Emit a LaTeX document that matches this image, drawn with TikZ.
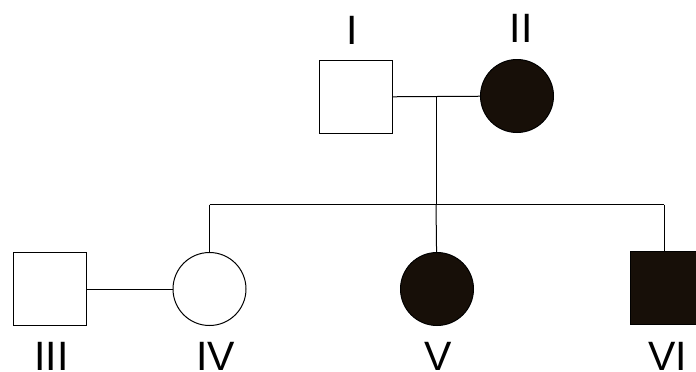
\documentclass[tikz,border=0pt]{standalone}
\usepackage{fontspec}
\setmainfont{Liberation Sans}
\usetikzlibrary{positioning}
\tikzset{male/.style={draw,rectangle,minimum size=36.5pt,inner sep=0pt,line width=0.5pt},
female/.style={draw,circle,minimum size=36.5pt,inner sep=0pt,line width=0.5pt},
ill/.style={fill=black!88!brown},
lbl/.style={font=\fontsize{20.5}{24}\selectfont,anchor=base,inner sep=0pt}}

\begin{document}
\begin{tikzpicture}[x=0.5pt,y=-0.5pt,line width=0.5pt]
		\useasboundingbox (0,0) rectangle (696,371);
		% parents
		\node[male] (p1) at (355.5,97) {};
		\node[female,ill] (p2) at (517,96) {};
		\coordinate (pm) at (436,97);
		% children
		\node[male] (c3) at (49.5,289) {};
		\node[female] (c4) at (209.5,289) {};
		\node[female,ill] (c5) at (437,289) {};
		\node[male,ill] (c6) at (666.5,288) {};
		\coordinate (sl) at (209.5,204.5);
		\coordinate (sm) at (436,204.5);
		\coordinate (sr) at (664,204.5);
		% labels
		\node[lbl] (l1) at (352.5,44) {I};
		\node[lbl] (l2) at (521,42) {II};
		\node[lbl] (l3) at (51.5,370) {III};
		\node[lbl] (l4) at (215.5,370) {IV};
		\node[lbl] (l5) at (438,370) {V};
		\node[lbl] (l6) at (668,370) {VI};
		% lines
		\draw (p1) -- (p2);
		\draw (pm) -- (sm);
		\draw (sl) -- (sr);
		\draw (sl) -- (c4);
		\draw (sm) -- (c5);
		\draw (sr) -- (sr |- c6.north);
		\draw (c3) -- (c4);
	\end{tikzpicture}
\end{document}
